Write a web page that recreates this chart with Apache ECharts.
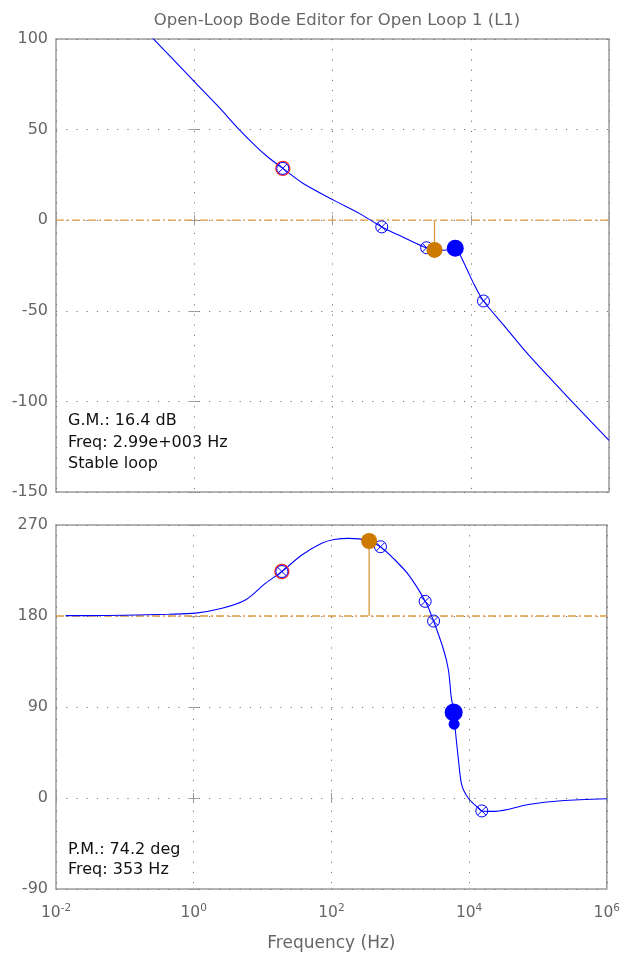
<!DOCTYPE html>
<html><head><meta charset="utf-8">
<script src="https://cdn.jsdelivr.net/npm/echarts@6/dist/echarts.min.js"></script>
<style>html,body{margin:0;padding:0;background:#fff}#c{width:623px;height:963px}</style>
</head><body><div id="c"></div>
<script>
// ---- data (frequency in Hz) ----
const magFreq = [0.24, 0.545, 1.06, 2.31, 4.4, 7.94, 12.2, 19.1, 37.2, 107, 251, 516, 1000, 2070, 2990, 4170, 5250, 5970, 7010, 8910, 11200, 15300, 31600, 72400, 316000, 1000000];
const magDb   = [101.2, 87.1, 75.5, 62.1, 50.3, 40.5, 34.2, 28.6, 20.4, 10.8, 3.5, -3.7, -9, -14.6, -16.4, -16.6, -16.0, -15.5, -19.2, -27.5, -35.5, -44.6, -59.0, -75.3, -101.5, -121.5];
const phFreq  = [0.0138, 0.0272, 0.1, 0.437, 1.06, 2.58, 5.62, 11.0, 19.1, 37.2, 72.4, 110, 180, 251, 353, 516, 794, 1330, 2370, 3050, 4270, 5010, 5500, 5970, 6310, 7010, 7830, 9770, 12900, 15300, 23800, 72400, 219000, 1000000];
const phDeg   = [180.4, 180.4, 180.8, 181.7, 182.8, 187.6, 195.8, 212.3, 224, 240.3, 251.9, 255.6, 256.8, 256.3, 254.2, 248.5, 237, 220.5, 193.2, 175, 146.4, 126.6, 100, 85, 67, 37.6, 12.8, -0.3, -8.6, -12.8, -13.2, -6.5, -2.7, -0.7];
const zeroFreq = [19.1, 516, 2300, 3050, 15300];
const zeroMag  = [28.6, -3.7, -15.2, -16.5, -44.6];
const zeroPh   = [224, 248.5, 194.5, 175, -12.8];
const redFreq = [19.1];
const redMag = [28.6];
const redPh = [224];
const gmFreq = 2990, gmDb = -16.4;      // gain margin marker
const pmFreq = 353, pmDeg = 254.2;      // phase margin marker
const clMagFreq = [5970], clMag = [-15.5];
const clPhFreq = [5970, 6060], clPh = [84.6, 73];
const clPhSize = [18, 11];
const xTickExp = [-2, 0, 2, 4, 6];
const magTicks = [-150, -100, -50, 0, 50, 100];
const phTicks = [-90, 0, 90, 180, 270];
const gmText = ['G.M.: 16.4 dB', 'Freq: 2.99e+003 Hz', 'Stable loop'];
const pmText = ['P.M.: 74.2 deg', 'Freq: 353 Hz'];

const L = Math.log10;
const pairs = (f, v) => f.map((x, i) => [L(x), v[i]]);

const FONT = 'DejaVu Sans';
const GRAY = '#666';
const FRAME = '#9a9a9a';
const BLUE = '#0000ff';
const ORANGE_DOT = '#cc7a00';
const ORANGE_LINE = '#dc9c40';
const dotted = {color: '#777', width: 1, type: [1.2, 9]};
const XPATH = 'path://M10,0A10,10,0,1,1,-10,0A10,10,0,1,1,10,0ZM-7,-7L7,7M7,-7L-7,7';

const grids = [
  {left: 56, top: 39, width: 553, height: 453},
  {left: 56, top: 525, width: 553, height: 364}
].map(g => Object.assign(g, {show: true, borderColor: FRAME, borderWidth: 1.5, backgroundColor: '#fff'}));

function xAx(gi, pos, labels) {
  return {
    type: 'value', gridIndex: gi, position: pos, min: -2, max: 6, interval: 2,
    axisLine: {show: false},
    axisTick: {show: true, inside: true, length: 5, lineStyle: {color: FRAME}},
    splitLine: {show: pos === 'bottom', lineStyle: dotted},
    axisLabel: labels ? {
      show: true, margin: 14,
      formatter: v => '{b|10}{s|' + v + '}',
      rich: {
        b: {fontFamily: FONT, fontSize: 15.5, color: GRAY, lineHeight: 20},
        s: {fontFamily: FONT, fontSize: 10.5, color: GRAY, lineHeight: 8, verticalAlign: 'top'}
      }
    } : {show: false},
    name: labels ? 'Frequency (Hz)' : '',
    nameLocation: 'middle', nameGap: 46,
    nameTextStyle: {fontFamily: FONT, fontSize: 17, color: GRAY}
  };
}
function yAx(gi, pos, min, max, interval, labels) {
  return {
    type: 'value', gridIndex: gi, position: pos, min: min, max: max, interval: interval,
    axisLine: {show: false},
    axisTick: {show: true, inside: true, length: 5, lineStyle: {color: FRAME}},
    splitLine: {show: pos === 'left', lineStyle: dotted},
    axisLabel: labels ? {show: true, margin: 8, fontFamily: FONT, fontSize: 16, color: GRAY} : {show: false}
  };
}

const xAxis = [xAx(0, 'bottom', false), xAx(0, 'top', false), xAx(1, 'bottom', true), xAx(1, 'top', false)];
const yAxis = [yAx(0, 'left', -150, 100, 50, true), yAx(0, 'right', -150, 100, 50, false),
               yAx(1, 'left', -90, 270, 90, true), yAx(1, 'right', -90, 270, 90, false)];

function lineS(xi, yi, data, color, width, type, z, smooth) {
  return {type: 'line', xAxisIndex: xi, yAxisIndex: yi, data: data, showSymbol: false, symbol: 'none',
    smooth: smooth || false,
    lineStyle: {color: color, width: width, type: type || 'solid'}, z: z || 2, silent: true, animation: false};
}
function scat(xi, yi, data, size, style, z, symbol) {
  return {type: 'scatter', xAxisIndex: xi, yAxisIndex: yi, data: data, symbol: symbol || 'circle',
    symbolSize: size, itemStyle: Object.assign({opacity: 1}, style), z: z, silent: true, animation: false};
}
const dashDot = [8, 3, 2, 3];
const zeroStyle = {color: 'none', borderColor: BLUE, borderWidth: 1};
const redStyle = {color: 'none', borderColor: '#ff2a2a', borderWidth: 1.4};

const series = [
  // magnitude panel
  lineS(0, 0, [[-2, 0], [6, 0]], ORANGE_LINE, 1.3, dashDot, 1),
  lineS(0, 0, [[L(gmFreq), 0], [L(gmFreq), gmDb]], ORANGE_LINE, 1.3, 'solid', 1),
  lineS(0, 0, pairs(magFreq, magDb), BLUE, 1.1, 'solid', 2, 0.3),
  scat(0, 0, pairs(redFreq, redMag), 14, redStyle, 3),
  scat(0, 0, pairs(zeroFreq, zeroMag), 12, zeroStyle, 4, XPATH),
  scat(0, 0, [[L(gmFreq), gmDb]], 16, {color: ORANGE_DOT}, 5),
  scat(0, 0, pairs(clMagFreq, clMag), 17, {color: BLUE}, 6),
  // phase panel
  lineS(2, 2, [[-2, 180], [6, 180]], ORANGE_LINE, 1.3, dashDot, 1),
  lineS(2, 2, [[L(pmFreq), 180], [L(pmFreq), pmDeg]], ORANGE_LINE, 1.3, 'solid', 1),
  lineS(2, 2, pairs(phFreq, phDeg), BLUE, 1.1, 'solid', 2, 0.3),
  scat(2, 2, pairs(redFreq, redPh), 14, redStyle, 3),
  scat(2, 2, pairs(zeroFreq, zeroPh), 12, zeroStyle, 4, XPATH),
  scat(2, 2, [[L(pmFreq), pmDeg]], 16, {color: ORANGE_DOT}, 5),
  {type: 'scatter', xAxisIndex: 2, yAxisIndex: 2, data: pairs(clPhFreq, clPh),
   symbolSize: (v, p) => clPhSize[p.dataIndex], itemStyle: {color: BLUE, opacity: 1}, z: 6, silent: true, animation: false}
];

const txt = (s, x, y) => ({type: 'text', x: x, y: y, z: 100, silent: true,
  style: {text: s, fill: '#111', font: '16px "DejaVu Sans"', align: 'left', verticalAlign: 'middle'}});
const graphic = [];
gmText.forEach((s, i) => graphic.push(txt(s, 68, 421 + i * 21.5)));
pmText.forEach((s, i) => graphic.push(txt(s, 68, 850 + i * 20)));

const chart = echarts.init(document.getElementById('c'), null, {renderer: 'canvas'});
chart.setOption({
  animation: false,
  backgroundColor: '#fff',
  title: {text: 'Open-Loop Bode Editor for Open Loop 1 (L1)', left: 332, top: 7, textAlign: 'center',
    textStyle: {fontFamily: FONT, fontSize: 16.5, fontWeight: 'normal', color: GRAY}},
  grid: grids, xAxis: xAxis, yAxis: yAxis, series: series, graphic: graphic
});
</script></body></html>
